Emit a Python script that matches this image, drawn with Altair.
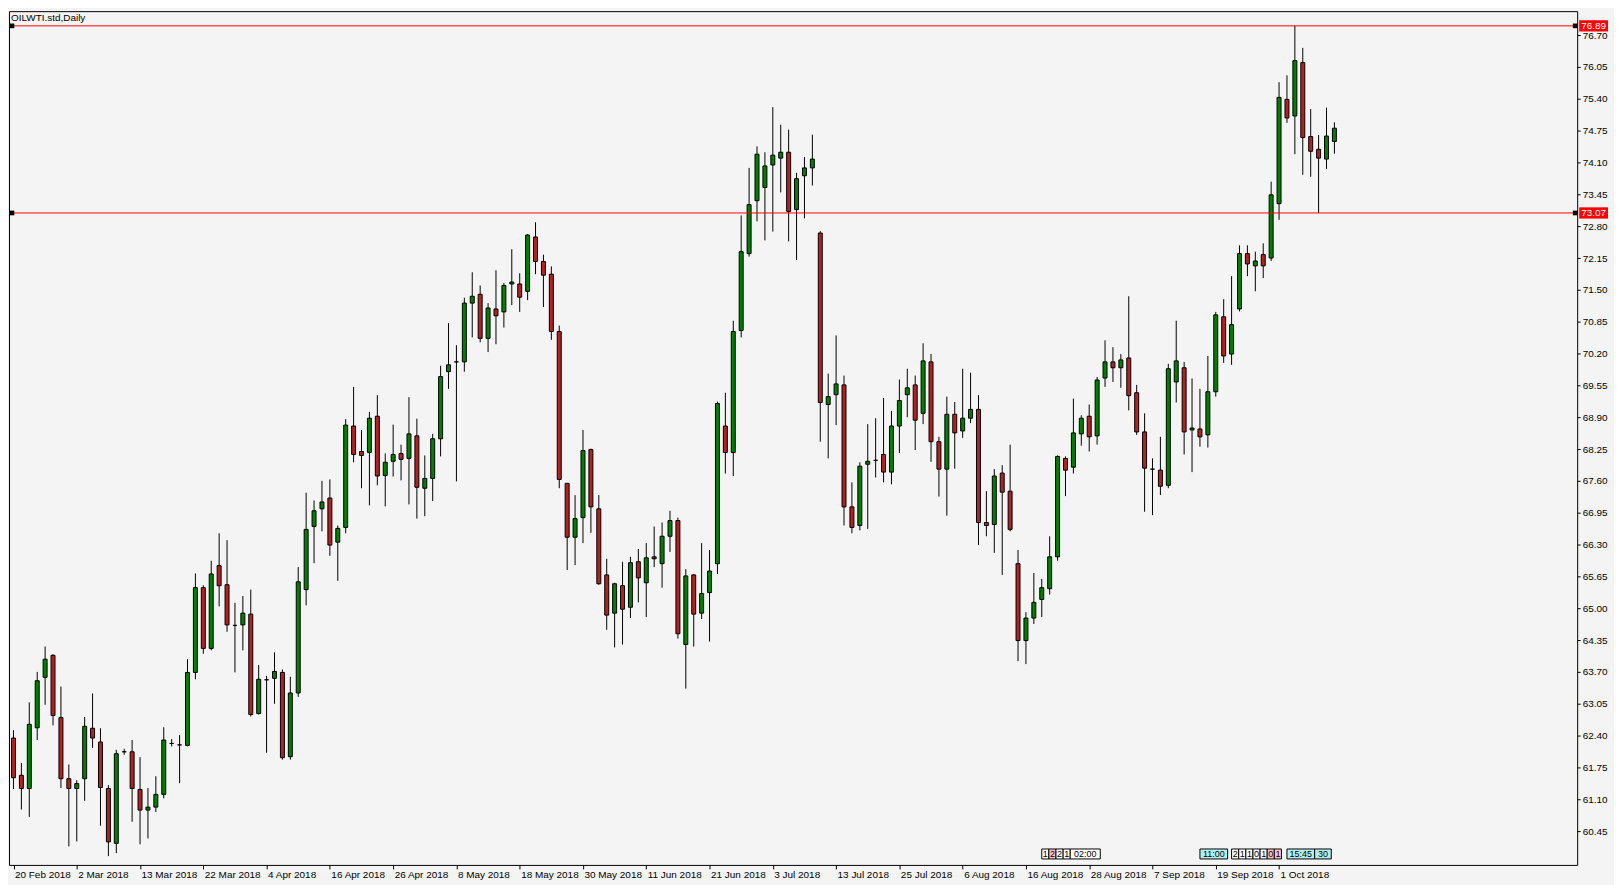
import altair as alt
import pandas as pd

symbol_title = "OILWTI.std,Daily"

opens = [62.35, 61.59, 61.32, 62.56, 63.59, 64.04, 62.77, 61.52, 61.32, 61.52,
         62.55, 62.27, 61.32, 60.20, 62.07, 62.07, 61.30, 60.88, 60.94, 61.20,
         62.24, 62.21, 62.20, 63.69, 65.42, 64.18, 65.87, 65.48, 64.65, 64.66,
         64.88, 62.85, 63.54, 63.57, 63.69, 61.97, 63.27, 65.38, 66.67, 67.03,
         67.25, 66.35, 66.65, 68.72, 68.20, 68.18, 68.92, 67.71, 68.00, 68.16,
         68.06, 68.52, 67.45, 67.65, 68.46, 69.83, 70.03, 70.03, 71.23, 71.41,
         70.51, 71.11, 71.05, 71.62, 71.62, 71.47, 72.58, 72.08, 71.82, 70.65,
         67.55, 66.45, 66.85, 68.24, 67.03, 65.68, 64.90, 65.46, 65.02, 65.95,
         65.52, 66.05, 65.91, 66.47, 66.79, 64.26, 65.68, 64.90, 65.32, 65.91,
         68.72, 68.18, 70.67, 72.24, 73.32, 73.59, 74.05, 74.19, 74.31, 73.14,
         73.83, 73.99, 72.66, 69.16, 69.36, 69.56, 67.07, 66.69, 67.94, 68.02,
         68.14, 67.78, 68.72, 69.36, 69.56, 68.98, 70.03, 68.40, 67.84, 68.96,
         68.62, 68.88, 69.06, 66.75, 66.71, 67.76, 67.39, 65.91, 64.34, 64.80,
         65.18, 65.40, 66.05, 68.06, 67.88, 68.56, 68.92, 68.52, 69.70, 70.03,
         69.91, 70.11, 69.40, 68.60, 67.84, 67.82, 67.51, 69.62, 69.91, 68.64,
         68.66, 68.54, 69.42, 70.95, 70.19, 71.11, 72.24, 71.99, 72.22, 72.15,
         73.26, 75.39, 75.05, 76.14, 74.63, 74.37, 74.17, 74.53]
highs = [62.51, 61.84, 63.08, 63.70, 64.22, 64.06, 63.40, 61.81, 61.49, 62.78,
         63.26, 62.55, 61.39, 62.11, 62.13, 62.31, 61.96, 61.33, 61.57, 62.57,
         62.33, 62.41, 63.96, 65.71, 65.47, 65.97, 66.53, 66.39, 65.11, 65.25,
         65.38, 63.84, 63.62, 64.10, 63.75, 63.60, 65.84, 67.36, 67.20, 67.60,
         67.63, 66.69, 68.86, 69.52, 68.64, 69.01, 69.35, 68.16, 68.75, 68.34,
         69.31, 68.87, 68.12, 68.56, 69.95, 70.82, 70.37, 71.34, 71.86, 71.59,
         71.23, 71.90, 71.64, 72.33, 71.84, 72.64, 72.88, 72.22, 71.98, 70.77,
         67.56, 67.31, 68.64, 68.26, 67.31, 66.01, 65.52, 65.95, 66.05, 66.21,
         66.33, 66.67, 66.75, 66.99, 66.85, 65.80, 65.70, 66.33, 66.19, 69.22,
         69.40, 70.87, 73.02, 73.99, 74.43, 74.31, 75.23, 74.87, 74.77, 73.89,
         74.21, 74.67, 72.70, 69.79, 70.57, 69.75, 67.57, 67.98, 68.76, 68.88,
         69.29, 69.03, 69.67, 69.89, 69.75, 70.41, 70.19, 68.50, 69.32, 69.21,
         69.89, 69.81, 69.35, 67.39, 67.84, 67.92, 68.34, 66.19, 64.92, 65.72,
         65.60, 66.47, 68.12, 68.10, 69.28, 68.94, 69.16, 69.72, 70.47, 70.33,
         70.19, 71.37, 69.56, 68.98, 68.06, 68.50, 69.99, 70.87, 70.03, 69.69,
         69.48, 70.15, 71.05, 71.31, 71.78, 72.41, 72.41, 72.28, 72.45, 73.71,
         75.74, 75.88, 76.89, 76.44, 75.19, 74.66, 75.22, 74.92]
lows = [61.31, 60.89, 60.74, 62.31, 63.03, 62.61, 61.33, 60.14, 60.24, 61.07,
        62.15, 60.56, 59.94, 60.00, 62.01, 60.64, 60.18, 60.30, 60.84, 61.12,
        62.18, 61.43, 62.18, 63.55, 64.07, 64.14, 65.04, 64.52, 63.69, 64.14,
        62.79, 62.83, 62.05, 63.05, 61.91, 61.91, 63.19, 65.06, 65.92, 66.57,
        66.07, 65.56, 66.53, 67.98, 67.45, 67.10, 67.51, 67.08, 67.69, 67.61,
        67.12, 66.83, 66.88, 67.19, 68.10, 69.48, 67.59, 69.83, 70.53, 70.43,
        70.23, 70.39, 70.73, 71.19, 71.05, 71.29, 71.82, 71.15, 70.48, 67.45,
        65.78, 65.88, 66.33, 66.54, 65.48, 64.56, 64.20, 64.26, 64.80, 65.12,
        64.82, 65.84, 65.42, 66.15, 64.38, 63.36, 64.22, 64.78, 64.32, 65.70,
        67.75, 67.70, 70.53, 72.18, 72.90, 72.51, 72.69, 73.49, 72.49, 72.11,
        72.96, 73.63, 68.40, 68.06, 68.74, 66.69, 66.53, 66.59, 66.62, 67.67,
        67.57, 67.53, 68.17, 68.90, 68.23, 68.76, 67.99, 67.28, 66.89, 67.85,
        68.48, 68.78, 66.29, 66.47, 66.13, 65.68, 66.57, 63.92, 63.86, 64.68,
        64.82, 65.28, 65.97, 67.29, 67.75, 68.32, 68.20, 68.34, 69.52, 69.62,
        69.50, 69.04, 68.54, 66.97, 66.90, 67.31, 67.45, 69.20, 68.14, 67.78,
        68.30, 68.28, 69.32, 70.01, 69.97, 71.06, 71.78, 71.47, 71.74, 72.09,
        72.93, 74.91, 74.27, 73.85, 73.81, 73.07, 73.97, 74.28]
closes = [61.54, 61.32, 62.63, 63.52, 63.96, 62.81, 61.52, 61.32, 61.42, 62.59,
          62.35, 61.34, 60.23, 62.03, 62.07, 61.32, 60.88, 60.94, 61.20, 62.31,
          62.24, 62.21, 63.69, 65.42, 64.18, 65.70, 65.46, 64.66, 64.65, 64.90,
          62.83, 63.55, 63.54, 63.71, 61.95, 63.27, 65.54, 66.61, 66.99, 67.17,
          66.29, 66.63, 68.74, 68.14, 68.12, 68.88, 67.70, 67.98, 68.14, 68.04,
          68.56, 67.47, 67.65, 68.46, 69.73, 69.97, 70.03, 71.23, 71.37, 70.51,
          71.13, 70.97, 71.59, 71.66, 71.35, 72.62, 72.08, 71.80, 70.65, 67.63,
          66.45, 66.83, 68.22, 67.07, 65.50, 64.86, 65.50, 64.98, 65.93, 65.62,
          66.03, 66.01, 66.47, 66.79, 64.48, 65.66, 64.88, 65.30, 65.76, 69.18,
          68.18, 70.65, 72.28, 73.24, 74.27, 74.03, 74.25, 74.31, 73.10, 73.77,
          73.99, 74.17, 69.20, 69.32, 69.58, 67.07, 66.65, 67.90, 68.00, 68.02,
          67.78, 68.72, 69.24, 69.50, 68.84, 70.05, 68.40, 67.84, 68.96, 68.58,
          68.88, 69.06, 66.75, 66.69, 67.70, 67.37, 66.61, 64.34, 64.80, 65.12,
          65.42, 66.05, 68.10, 67.82, 68.58, 68.88, 68.50, 69.66, 70.03, 69.91,
          70.07, 69.34, 68.60, 67.86, 67.84, 67.49, 69.89, 70.05, 68.60, 68.68,
          68.50, 69.42, 70.99, 70.15, 70.79, 72.24, 72.03, 72.09, 71.99, 73.44,
          75.43, 75.01, 76.18, 74.61, 74.33, 74.19, 74.64, 74.80]

date_label_idx = [0, 8, 16, 24, 32, 40, 48, 56, 64, 72, 80, 88, 96, 104, 112,
                  120, 128, 136, 144, 152, 160]
date_labels = ["20 Feb 2018", "2 Mar 2018", "13 Mar 2018", "22 Mar 2018",
               "4 Apr 2018", "16 Apr 2018", "26 Apr 2018", "8 May 2018",
               "18 May 2018", "30 May 2018", "11 Jun 2018", "21 Jun 2018",
               "3 Jul 2018", "13 Jul 2018", "25 Jul 2018", "6 Aug 2018",
               "16 Aug 2018", "28 Aug 2018", "7 Sep 2018", "19 Sep 2018",
               "1 Oct 2018"]

price_ticks = [60.45, 61.10, 61.75, 62.40, 63.05, 63.70, 64.35, 65.00, 65.65,
               66.30, 66.95, 67.60, 68.25, 68.90, 69.55, 70.20, 70.85, 71.50,
               72.15, 72.80, 73.45, 74.10, 74.75, 75.40, 76.05, 76.70]

level_prices = [76.89, 73.07]
level_labels = ["76.89", "73.07"]

# calendar event tags at the bottom (start/end in bar units)
tag_text = ["1", "2", "2", "1", "02:00",
            "11:00", "2", "1", "1", "0", "1", "0", "1", "15:45", "30"]
tag_start = [130.0, 130.9, 131.8, 132.7, 133.6,
             150.0, 154.0, 154.9, 155.8, 156.7, 157.6, 158.5, 159.4, 161.0, 164.5]
tag_end = [130.9, 131.8, 132.7, 133.6, 137.4,
           153.5, 154.9, 155.8, 156.7, 157.6, 158.5, 159.4, 160.3, 164.5, 166.6]
tag_fill = ["#ffffff", "#ffc0cb", "#ffffff", "#ffffff", "#ffffff",
            "#b0f0f0", "#ffffff", "#ffffff", "#ffffff", "#ffffff", "#ffffff",
            "#ffc0cb", "#ffc0cb", "#b0f0f0", "#b0f0f0"]

FONT = "Liberation Sans"
W, H = 1576, 858

df = pd.DataFrame({"idx": list(range(len(opens))), "open": opens, "high": highs,
                   "low": lows, "close": closes})
df["dir"] = ["up" if c > o else ("down" if c < o else "flat")
             for o, c in zip(df["open"], df["close"])]

lv = pd.DataFrame({"price": level_prices, "label": level_labels})
lv["hi"] = lv["price"] + 0.115
lv["lo"] = lv["price"] - 0.115

tags = pd.DataFrame({"text": tag_text, "start": tag_start, "end": tag_end, "fill": tag_fill})
tags["mid"] = (tags["start"] + tags["end"]) / 2

label_expr = "".join("datum.value == %d ? '%s' : " % (i, s)
                     for i, s in zip(date_label_idx, date_labels)) + "''"

x_scale = alt.Scale(domain=[0.0625, 197.0625], nice=False, zero=False)
y_scale = alt.Scale(domain=[59.76, 77.19], nice=False, zero=False)

x_axis = alt.Axis(values=date_label_idx, labelExpr=label_expr, orient="bottom",
                  title=None, grid=False, domain=False, tickSize=4, tickColor="black",
                  labelAlign="left", labelBaseline="top", labelFont=FONT,
                  labelFontSize=10, labelColor="black", labelPadding=1,
                  labelOffset=1, labelOverlap=False, labelFlush=False, labelBound=False)
y_axis = alt.Axis(values=price_ticks, format=".2f", orient="right", title=None,
                  grid=False, domain=False, tickSize=3, tickColor="black",
                  labelFont=FONT, labelFontSize=10, labelColor="black",
                  labelPadding=2, labelOverlap=False, labelFlush=False, labelBound=False)


def X(field):
    return alt.X(field, type="quantitative", scale=x_scale, axis=x_axis)


def Y(field):
    return alt.Y(field, type="quantitative", scale=y_scale, axis=y_axis)


base = alt.Chart(df)

wicks = base.mark_rule(color="black", strokeWidth=1).encode(
    x=X("idx"), y=Y("low"), y2="high")

bodies = base.mark_bar(size=4, stroke="black", strokeWidth=1).encode(
    x=X("idx"), y=Y("open"), y2="close",
    color=alt.Color("dir:N", scale=alt.Scale(domain=["up", "down", "flat"],
                                             range=["#008000", "#b22222", "#000000"]),
                    legend=None))

lines = alt.Chart(lv).mark_rule(color="#ff0000", strokeWidth=1).encode(y=Y("price"))

sq_left = alt.Chart(lv).mark_square(size=22, color="black", opacity=1).encode(
    x=alt.value(3), y=Y("price"))
sq_right = alt.Chart(lv).mark_square(size=22, color="black", opacity=1).encode(
    x=alt.value(W - 2), y=Y("price"))

tag_box = alt.Chart(lv).mark_rect(color="#ff0000").encode(
    x=alt.value(W + 2), x2=alt.value(W + 31), y=Y("hi"), y2="lo")
tag_txt = alt.Chart(lv).mark_text(align="left", baseline="middle", color="white",
                                  font=FONT, fontSize=10).encode(
    x=alt.value(W + 4), y=Y("price"), text="label:N")

title_txt = alt.Chart(pd.DataFrame({"t": [symbol_title]})).mark_text(
    align="left", baseline="middle", color="black", font=FONT, fontSize=10).encode(
    x=alt.value(2), y=alt.value(7), text="t:N")

ev_box = alt.Chart(tags).mark_rect(stroke="black", strokeWidth=1).encode(
    x=X("start"), x2="end", y=alt.value(H - 16), y2=alt.value(H - 6),
    fill=alt.Fill("fill:N", scale=None))
ev_txt = alt.Chart(tags).mark_text(align="center", baseline="middle", color="black",
                                   font=FONT, fontSize=9).encode(
    x=X("mid"), y=alt.value(H - 11), text="text:N")

chart = alt.layer(wicks, bodies, lines, sq_left, sq_right, tag_box, tag_txt,
                  title_txt, ev_box, ev_txt).properties(
    width=W, height=H, background="#f4f4f4",
    autosize=alt.AutoSizeParams(type="none"),
    padding={"left": 1, "top": 1, "right": 37, "bottom": 18},
).configure_view(stroke="black", strokeWidth=1, fill="#f4f4f4")

chart.save("out.html", embed_options={"renderer": "svg", "actions": False})
